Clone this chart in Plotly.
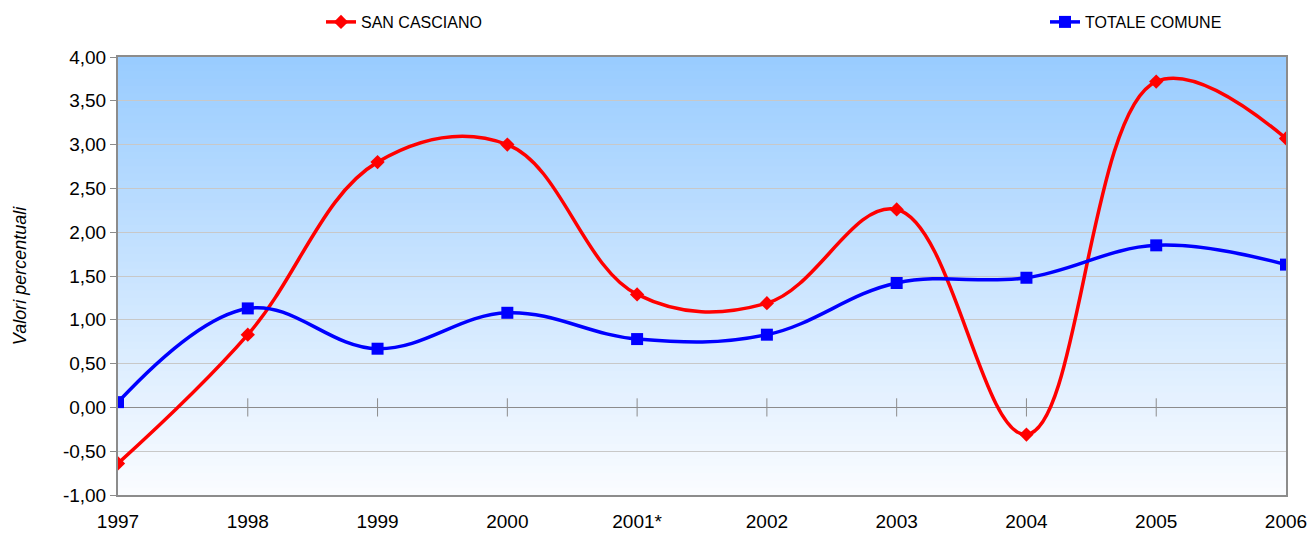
import plotly.graph_objects as go

years = ["1997", "1998", "1999", "2000", "2001*", "2002", "2003", "2004", "2005", "2006"]
san_casciano = [-0.64, 0.83, 2.80, 3.00, 1.29, 1.19, 2.26, -0.31, 3.72, 3.07]
totale_comune = [0.06, 1.13, 0.67, 1.08, 0.78, 0.83, 1.42, 1.48, 1.85, 1.63]
y_ticks = [-1.0, -0.5, 0.0, 0.5, 1.0, 1.5, 2.0, 2.5, 3.0, 3.5, 4.0]
y_ticklabels = ["-1,00", "-0,50", "0,00", "0,50", "1,00", "1,50", "2,00", "2,50", "3,00", "3,50", "4,00"]

xi = list(range(len(years)))
font_family = "Liberation Sans, Arial, sans-serif"

W, H = 1310, 533
L, R, T, B = 118, 24, 57, 38
pw = W - L - R
ph = H - T - B

def px_x(p):
    return (p - L) / pw

def px_y(p):
    return 1 + (T - p) / ph

fig = go.Figure()

# gradient background strips
n = 60
top = (153, 204, 255)
bot = (250, 252, 255)
shapes = []
for k in range(n):
    t = k / (n - 1)
    c = tuple(round(bot[j] + (top[j] - bot[j]) * t) for j in range(3))
    shapes.append(dict(type="rect", xref="x domain", yref="y domain",
                       x0=0, x1=1, y0=k / n, y1=(k + 1) / n + 0.002,
                       fillcolor="rgb(%d,%d,%d)" % c, line=dict(width=0), layer="below"))

# tick marks crossing the zero line
fig.add_trace(go.Scatter(x=xi[1:-1], y=[0] * (len(xi) - 2), mode="markers",
                         marker=dict(symbol="line-ns-open", size=13, color="#8c8c8c",
                                     line=dict(color="#8c8c8c", width=1)),
                         showlegend=False, hoverinfo="skip"))

fig.add_trace(go.Scatter(x=xi, y=san_casciano, name="SAN CASCIANO", mode="lines+markers",
                         line=dict(color="#ff0000", width=3.5, shape="spline", smoothing=1.1),
                         marker=dict(symbol="diamond", size=11, color="#ff0000"),
                         legend="legend"))
fig.add_trace(go.Scatter(x=xi, y=totale_comune, name="TOTALE COMUNE", mode="lines+markers",
                         line=dict(color="#0000ff", width=3.5, shape="spline", smoothing=1.1),
                         marker=dict(symbol="square", size=12, color="#0000ff"),
                         legend="legend2"))

leg_common = dict(orientation="h", xanchor="left", yanchor="middle", y=px_y(22),
                  font=dict(size=16, family=font_family), bgcolor="rgba(0,0,0,0)",
                  itemwidth=30)

fig.update_layout(
    width=W, height=H,
    margin=dict(l=L, r=R, t=T, b=B, autoexpand=False),
    paper_bgcolor="white", plot_bgcolor="white",
    font=dict(family=font_family, size=19, color="black"),
    shapes=shapes,
    showlegend=True,
    legend=dict(x=px_x(321), **leg_common),
    legend2=dict(x=px_x(1045), **leg_common),
    xaxis=dict(range=[0, len(years) - 1], tickvals=xi, ticktext=years,
               showgrid=False, zeroline=False, showline=True, linecolor="#8c8c8c",
               linewidth=2, mirror=True, ticks="", tickfont=dict(size=19),
               ticklabelstandoff=8),
    yaxis=dict(range=[-1, 4], tickvals=y_ticks, ticktext=y_ticklabels,
               showgrid=True, gridcolor="#c8c8c8", gridwidth=1,
               zeroline=True, zerolinecolor="#8c8c8c", zerolinewidth=1,
               showline=True, linecolor="#8c8c8c", linewidth=2, mirror=True,
               ticks="outside", ticklen=6, tickcolor="#8c8c8c",
               tickfont=dict(size=19),
               title=dict(text="<i>Valori percentuali</i>", font=dict(size=18), standoff=32)),
)

fig.write_html("out.html", config={"displayModeBar": False},
               post_script="document.body.style.margin='0';")
